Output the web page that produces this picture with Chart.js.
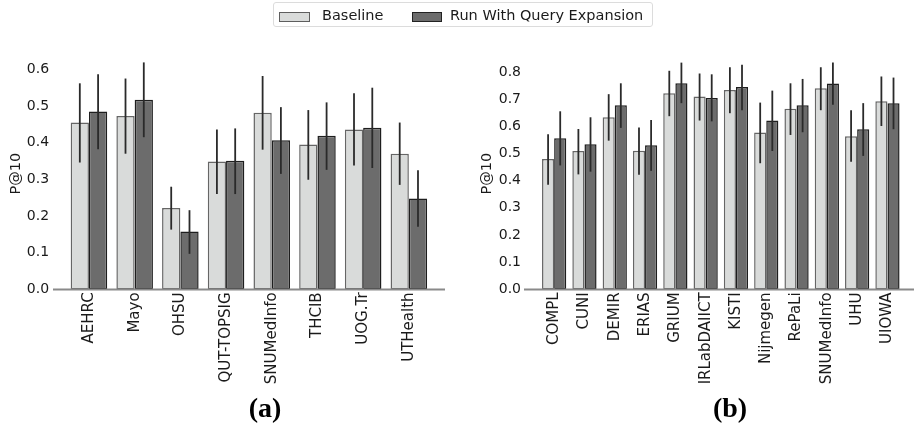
<!DOCTYPE html>
<html>
<head>
<meta charset="utf-8">
<script src="https://cdn.jsdelivr.net/npm/chart.js@4/dist/chart.umd.min.js"></script>
<style>
  html, body { margin: 0; padding: 0; background: #fff; }
  body { width: 914px; height: 424px; position: relative; overflow: hidden; font-family: "DejaVu Sans", sans-serif; }
  canvas { position: absolute; top: 0; }
  #cA { left: 0; }
  #cB { left: 457px; }
  .legend { position: absolute; left: 273px; top: 2px; width: 380px; height: 25px; border: 1px solid #dcdcdc; border-radius: 3px; box-sizing: border-box; }
  .sw { position: absolute; top: 9px; height: 10px; box-sizing: border-box; }
  .lt { position: absolute; top: 4px; font-size: 14.5px; line-height: 17px; color: #1a1a1a; white-space: nowrap; }
  .cap { position: absolute; top: 392px; font-family: "Liberation Serif", serif; font-weight: bold; font-size: 28px; color: #000; transform: translateX(-50%); }
</style>
</head>
<body>
<canvas id="cA" width="457" height="424"></canvas>
<canvas id="cB" width="457" height="424"></canvas>
<div class="legend">
  <div class="sw" style="left:5px;width:31px;background:#d9dbda;border:1px solid #5e5e5e;"></div>
  <div class="lt" style="left:48px;">Baseline</div>
  <div class="sw" style="left:138px;width:30px;background:#6c6c6c;border:1px solid #222;"></div>
  <div class="lt" style="left:176px;">Run With Query Expansion</div>
</div>
<div class="cap" style="left:265px;">(a)</div>
<div class="cap" style="left:730px;">(b)</div>
<script>
// ---------- DATA ----------
const seriesNames = ["Baseline", "Run With Query Expansion"];

// (a)
const categoriesA = ["AEHRC", "Mayo", "OHSU", "QUT-TOPSIG", "SNUMedInfo", "THCIB", "UOG.Tr", "UTHealth"];
const baselineA   = [0.455, 0.473, 0.222, 0.349, 0.482, 0.395, 0.436, 0.370];
const baselineLoA = [0.346, 0.370, 0.163, 0.260, 0.381, 0.299, 0.338, 0.285];
const baselineHiA = [0.562, 0.575, 0.280, 0.436, 0.582, 0.489, 0.535, 0.455];
const expansionA   = [0.485, 0.517, 0.158, 0.351, 0.407, 0.419, 0.441, 0.248];
const expansionLoA = [0.382, 0.415, 0.097, 0.260, 0.315, 0.326, 0.331, 0.171];
const expansionHiA = [0.587, 0.619, 0.216, 0.439, 0.497, 0.510, 0.550, 0.325];
const yTicksA = [0.0, 0.1, 0.2, 0.3, 0.4, 0.5, 0.6];

// (b)
const categoriesB = ["COMPL", "CUNI", "DEMIR", "ERIAS", "GRIUM", "IRLabDAIICT", "KISTI", "Nijmegen", "RePaLi", "SNUMedInfo", "UHU", "UIOWA"];
const baselineB   = [0.480, 0.509, 0.633, 0.510, 0.721, 0.709, 0.733, 0.577, 0.664, 0.740, 0.563, 0.692];
const baselineLoB = [0.385, 0.423, 0.547, 0.422, 0.637, 0.621, 0.648, 0.464, 0.568, 0.659, 0.469, 0.601];
const baselineHiB = [0.571, 0.590, 0.718, 0.595, 0.804, 0.794, 0.817, 0.687, 0.758, 0.817, 0.659, 0.783];
const expansionB   = [0.556, 0.534, 0.677, 0.530, 0.758, 0.704, 0.744, 0.621, 0.677, 0.757, 0.589, 0.685];
const expansionLoB = [0.456, 0.433, 0.594, 0.436, 0.685, 0.618, 0.659, 0.509, 0.578, 0.679, 0.491, 0.589];
const expansionHiB = [0.655, 0.633, 0.758, 0.623, 0.834, 0.791, 0.826, 0.731, 0.774, 0.834, 0.685, 0.779];
const yTicksB = [0.0, 0.1, 0.2, 0.3, 0.4, 0.5, 0.6, 0.7, 0.8];

// ---------- STYLE ----------
const baseFill = "#d9dbda", baseBorder = "#666666";
const expFill = "#6c6c6c", expBorder = "#1e1e1e";
const textColor = "#1a1a1a";

const errorBars = {
  id: "errorBars",
  afterDatasetsDraw(chart) {
    const ctx = chart.ctx, y = chart.scales.y;
    ctx.save();
    ctx.strokeStyle = "#2a2a2a";
    ctx.lineWidth = 1.8;
    chart.data.datasets.forEach((ds, i) => {
      const meta = chart.getDatasetMeta(i);
      meta.data.forEach((bar, j) => {
        ctx.beginPath();
        ctx.moveTo(bar.x, y.getPixelForValue(ds.errLo[j]));
        ctx.lineTo(bar.x, y.getPixelForValue(ds.errHi[j]));
        ctx.stroke();
      });
    });
    ctx.restore();
  }
};

const spine = {
  id: "spine",
  afterDatasetsDraw(chart, args, opts) {
    const ctx = chart.ctx, a = chart.chartArea;
    ctx.save();
    ctx.strokeStyle = "#8a8a8a";
    ctx.lineWidth = 2;
    ctx.beginPath();
    ctx.moveTo(a.left - opts.extL, a.bottom);
    ctx.lineTo(a.right + opts.extR, a.bottom);
    ctx.stroke();
    ctx.restore();
  }
};

function makeChart(id, cats, b, bLo, bHi, e, eLo, eHi, ticks, yMax, yWidth, titlePad, padRight, extL, extR) {
  return new Chart(document.getElementById(id), {
    type: "bar",
    data: {
      labels: cats,
      datasets: [
        { label: seriesNames[0], data: b, errLo: bLo, errHi: bHi, backgroundColor: baseFill, borderColor: baseBorder, borderWidth: 1.5, borderSkipped: false },
        { label: seriesNames[1], data: e, errLo: eLo, errHi: eHi, backgroundColor: expFill, borderColor: expBorder, borderWidth: 1.5, borderSkipped: false }
      ]
    },
    options: {
      responsive: false,
      animation: false,
      devicePixelRatio: 1,
      categoryPercentage: 0.8,
      barPercentage: 1.0,
      layout: { padding: { top: 58, right: padRight, bottom: 0, left: 0 } },
      plugins: { legend: { display: false }, tooltip: { enabled: false }, spine: { extL, extR } },
      scales: {
        x: {
          grid: { display: false, drawTicks: false },
          border: { display: false },
          ticks: { autoSkip: false, minRotation: 90, maxRotation: 90, padding: 3, color: textColor, font: { family: "DejaVu Sans", size: 15 } },
          afterFit(s) { s.height = 424 - 289.4; }
        },
        y: {
          min: 0, max: yMax,
          grid: { display: false, drawTicks: false },
          border: { display: false },
          afterBuildTicks(s) { s.ticks = ticks.map(v => ({ value: v })); },
          ticks: { padding: titlePad.tick, color: textColor, font: { family: "DejaVu Sans", size: 14 }, callback: v => Number(v).toFixed(1) },
          title: { display: true, text: "P@10", color: textColor, font: { family: "DejaVu Sans", size: 14.5 }, padding: { top: titlePad.title, bottom: 0 } },
          afterFit(s) { s.width = yWidth; }
        }
      }
    },
    plugins: [errorBars, spine]
  });
}

makeChart("cA", categoriesA, baselineA, baselineLoA, baselineHiA, expansionA, expansionLoA, expansionHiA, yTicksA, 0.631, 66.1, { tick: 17, title: 7.3 }, 25.3, 13.1, 13.3);
makeChart("cB", categoriesB, baselineB, baselineLoB, baselineHiB, expansionB, expansionLoB, expansionHiB, yTicksB, 0.851, 82, { tick: 18, title: 21.8 }, 11.4, 15, 12);
</script>
</body>
</html>
